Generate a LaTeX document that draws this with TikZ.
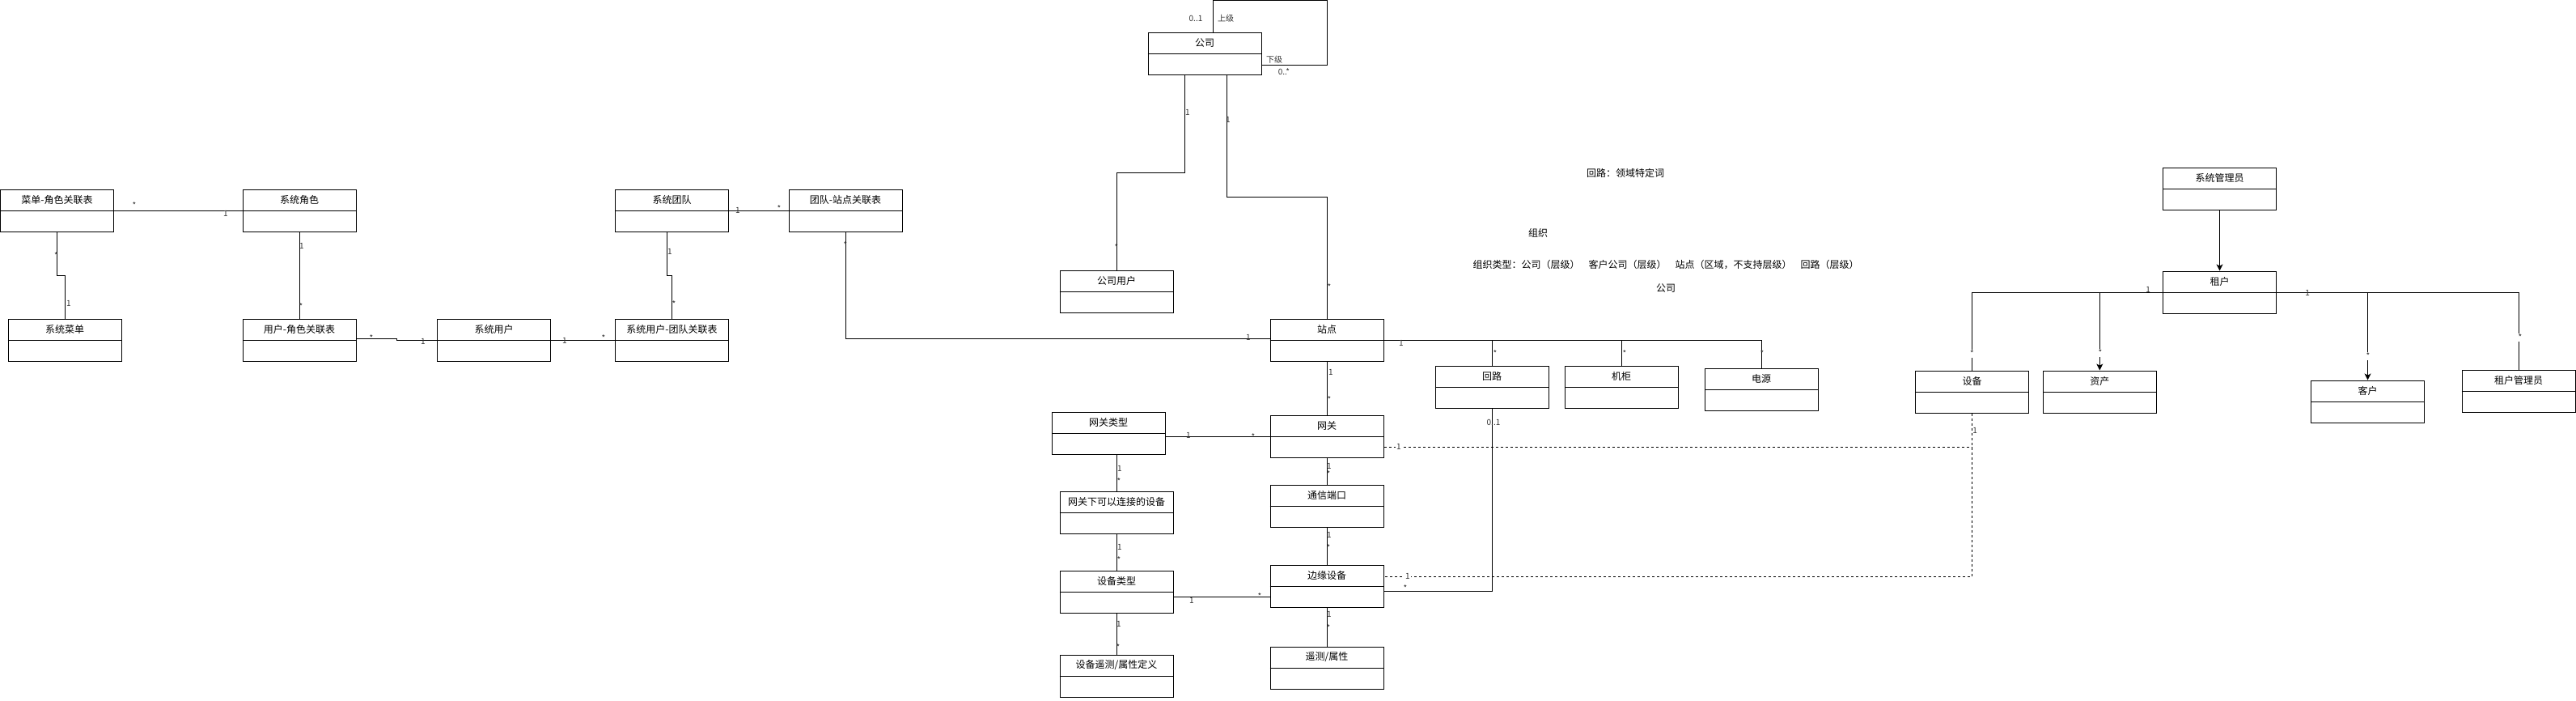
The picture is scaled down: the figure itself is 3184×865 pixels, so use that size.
\documentclass[tikz,border=0pt]{standalone}
\usepackage{fontspec}
\setmainfont{Noto Sans CJK SC}
\usetikzlibrary{calc,arrows.meta}

\newcommand{\classbox}[3]{%
	\node[classbox] (#1) at (#2) {};
	\draw (#1.west) -- (#1.east);
	\node[classname] (#1-name) at ($(#1.north)!.5!(#1.center)$) {#3};
}

\begin{document}
\begin{tikzpicture}[x=1pt, y=-1pt, line width=1pt,
	classbox/.style={draw, fill=white, minimum width=140pt, minimum height=52pt, inner sep=0pt},
	classname/.style={font=\fontsize{12pt}{14pt}\selectfont, inner sep=0pt},
	note/.style={font=\fontsize{12pt}{14pt}\selectfont, inner sep=0pt},
	mult/.style={font=\fontsize{10pt}{12pt}\selectfont, text=black!80, inner sep=0pt},
	multbg/.style={mult, fill=white, inner sep=1.5pt},
	dep/.style={dash pattern=on 3pt off 3pt},
	nav/.style={-{Stealth[length=8pt,width=8pt,inset=2pt]}}]
	
	\useasboundingbox (0,0) rectangle (3184,865);
	
	% system tables
	\classbox{menuRole}{70.5,260}{菜单-角色关联表}
	\classbox{sysRole}{370,260}{系统角色}
	\classbox{sysMenu}{80,420}{系统菜单}
	\classbox{userRole}{370,420}{用户-角色关联表}
	\classbox{sysUser}{610.5,420}{系统用户}
	\classbox{sysTeam}{830.5,260}{系统团队}
	\classbox{userTeam}{830.5,420}{系统用户-团队关联表}
	\classbox{teamSite}{1045,260}{团队-站点关联表}
	
	% company and site
	\classbox{company}{1489,66}{公司}
	\classbox{companyUser}{1380,360}{公司用户}
	\classbox{site}{1640,420}{站点}
	\classbox{gwType}{1370,535}{网关类型}
	\classbox{gw}{1640,539}{网关}
	\classbox{gwDev}{1380,633}{网关下可以连接的设备}
	\classbox{devType}{1380,731}{设备类型}
	\classbox{devTelemDef}{1380,835}{设备遥测/属性定义}
	\classbox{port}{1640,625}{通信端口}
	\classbox{edge}{1640,724}{边缘设备}
	\classbox{telem}{1640,825}{遥测/属性}
	\classbox{loop}{1844,478}{回路}
	\classbox{cabinet}{2004,478}{机柜}
	\classbox{power}{2177,481}{电源}
	
	% tenant
	\classbox{device}{2437.5,484}{设备}
	\classbox{asset}{2595.3,484}{资产}
	\classbox{sysAdmin}{2743.5,233}{系统管理员}
	\classbox{tenant}{2743.5,361}{租户}
	\classbox{customer}{2926.5,496}{客户}
	\classbox{tenantAdmin}{3113,483.5}{租户管理员}
	
	\node[note] (noteLoop) at (2009,214) {回路：领域特定词};
	\node[note] (noteOrg) at (1901,288) {组织};
	\node[note, anchor=west] (noteTypes) at (1820,327) {组织类型：公司（层级）\hspace{11pt}客户公司（层级）\hspace{11pt}站点（区域，不支持层级）\hspace{11pt}回路（层级）};
	\node[note] (noteCompany) at (2059,356) {公司};
	
	% left connectors
	\draw (menuRole.east) -- (sysRole.west);
	\node[mult] (m1) at (166,254) {*};  \node[mult] (m2) at (279,264) {1};
	\draw (menuRole.south) -- ++(0,54) -| (sysMenu.north);
	\node[mult] (m3) at (69.5,316) {*}; \node[mult] (m4) at (85,375) {1};
	\draw (sysRole.south) -- (userRole.north);
	\node[mult] (m5) at (373,304) {1};  \node[mult] (m6) at (372,379) {*};
	\draw ($(userRole.east)+(0,-2)$) -- ++(50,0) |- (sysUser.west);
	\node[mult] (m7) at (459,418) {*};  \node[mult] (m8) at (523,422) {1};
	\draw (sysUser.east) -- (userTeam.west);
	\node[mult] (m9) at (698,421) {1};  \node[mult] (m10) at (746,418) {*};
	\draw ($(sysTeam.south)+(-6,0)$) -- ++(0,54) -| (userTeam.north);
	\node[mult] (m11) at (828,311) {1}; \node[mult] (m12) at (833,376) {*};
	\draw (sysTeam.east) -- (teamSite.west);
	\node[mult] (m13) at (912,260) {1}; \node[mult] (m14) at (963,258) {*};
	\draw (teamSite.south) |- ($(site.west)+(0,-2)$);
	\node[mult] (m15) at (1045,303) {*}; \node[mult] (m16) at (1543,417) {1};
	
	% company connectors
	\draw ($(company.north)+(10,0)$) -- ++(0,-39) -| ($(company.east)+(81,14)$) -- ($(company.east)+(0,14)$);
	\node[mult] (m17) at (1478,23) {0..1}; \node[mult] (m18) at (1515,23) {上级};
	\node[mult] (m19) at (1575,74) {下级}; \node[mult] (m20) at (1587,89) {0..*};
	\draw ($(company.south)+(-25,0)$) -- ++(0,121) -| (companyUser.north);
	\node[mult] (m21) at (1468,139) {1}; \node[mult] (m22) at (1380,306) {*};
	\draw ($(company.south)+(27,0)$) -- ++(0,151) -| (site.north);
	\node[mult] (m23) at (1518,148) {1}; \node[mult] (m24) at (1643,355) {*};
	
	% site, gateway, device connectors
	\draw (site.south) -- (gw.north);
	\node[mult] (m25) at (1645,460) {1}; \node[mult] (m26) at (1643,494) {*};
	\draw (gw.west -| gwType.east) -- (gw.west);
	\node[mult] (m27) at (1469,538) {1}; \node[mult] (m28) at (1549,540) {*};
	\draw (gwType.south -| gwDev.north) -- (gwDev.north);
	\node[mult] (m29) at (1384,579) {1}; \node[mult] (m30) at (1383,595) {*};
	\draw (gwDev.south) -- (devType.north);
	\node[mult] (m31) at (1384,676) {1}; \node[mult] (m32) at (1383,692) {*};
	\draw (devType.south) -- (devTelemDef.north);
	\node[mult] (m33) at (1383,771) {1}; \node[mult] (m34) at (1382,800) {*};
	\draw (gw.south) -- (port.north);
	\node[mult] (m35) at (1643,576) {1}; \node[mult] (m36) at (1642,586) {*};
	\draw (port.south) -- (edge.north);
	\node[mult] (m37) at (1643,661) {1}; \node[mult] (m38) at (1642,677) {*};
	\draw (edge.south) -- (telem.north);
	\node[mult] (m39) at (1643,759) {1}; \node[mult] (m40) at (1642,776) {*};
	\draw ($(devType.east)+(0,6)$) -- ($(edge.west)+(0,13)$);
	\node[mult] (m41) at (1473,742) {1}; \node[mult] (m42) at (1557,737) {*};
	
	\draw (site.east) -| (power.north);
	\draw (site.east -| loop.north) -- (loop.north);
	\draw (site.east -| cabinet.north) -- (cabinet.north);
	\node[mult] (m43) at (1732,424) {1};
	\node[mult] (m44) at (1848,437) {*}; \node[mult] (m45) at (2008,437) {*}; \node[mult] (m46) at (2178,437) {*};
	\draw (loop.south) |- ($(edge.east)+(0,6)$);
	\node[mult] (m47) at (1846,522) {0..1}; \node[mult] (m48) at (1737,727) {*};
	
	\coordinate (gwDep) at ($(gw.east)+(0,13)$);
	\coordinate (edgeDep) at ($(edge.east)+(0,-12)$);
	\draw[dep] (gwDep) -- (gwDep -| device.south);
	\draw[dep] (device.south) |- (edgeDep);
	\node[multbg] (m49) at (1729,552) {1}; \node[multbg] (m50) at (1740,712) {1};
	\node[mult] (m51) at (2441,532) {1};
	
	% tenant connectors
	\draw[nav] (sysAdmin.south) -- (tenant.north);
	\draw (tenant.west) -| (device.north);
	\draw[nav] (tenant.west -| asset.north) -- (asset.north);
	\node[mult] (m52) at (2655,358) {1};
	\node[multbg] (m53) at (2437.5,437) {*}; \node[multbg] (m54) at (2596,436) {*};
	\draw (tenant.east) -| (tenantAdmin.north);
	\draw[nav] (tenant.east -| customer.north) -- (customer.north);
	\node[mult] (m55) at (2852,362) {1};
	\node[multbg] (m56) at (2927,440) {*}; \node[multbg] (m57) at (3115,417) {*};
	
\end{tikzpicture}
\end{document}
